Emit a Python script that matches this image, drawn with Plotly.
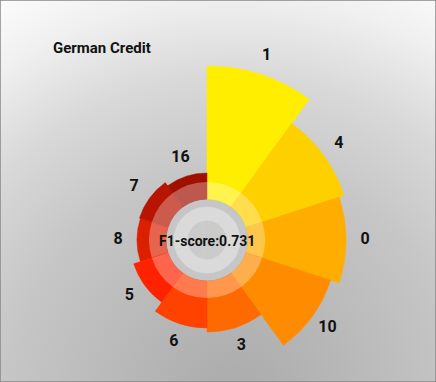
import base64
import math
import plotly.graph_objects as go

# ---- data ----
features = ["1", "4", "0", "10", "3", "6", "5", "8", "7", "16"]
importance = [133, 103, 98, 89, 51, 47, 36, 29, 30, 26]
colors = ["#FFEE00", "#FFD000", "#FFAE00", "#FF8C00", "#FF6A00",
          "#FF4200", "#FF2200", "#DB2000", "#B81500", "#A01000"]
title_text = "German Credit"
score_text = "F1-score:0.731"

HOLE = 41
BAND = 17
LABEL_GAP = 19
n = len(features)
step = 360 / n
thetas = [step / 2 + i * step for i in range(n)]

W, H = 436, 382
CX, CY = 207, 240      # centre in px (from top-left)
RA, RB = 200, 140      # radii (px) of upper / lower polar sectors
SA = [-45, 225]        # upper sector (screen degrees, ccw from east)
SB = [-165, -15]       # lower sector

FONT = "Roboto, Liberation Sans, Arial"

# which wedges go in the lower sector (clockwise angle from top within 108..252)
in_b = [108 <= t <= 252 for t in thetas]

# background gradient image
svg = f'''<svg xmlns="http://www.w3.org/2000/svg" width="{W}" height="{H}">
<defs><radialGradient id="g" gradientUnits="userSpaceOnUse" cx="235" cy="400" r="460">
<stop offset="0" stop-color="#aaaaaa"/>
<stop offset="0.5" stop-color="#c6c6c6"/>
<stop offset="0.7" stop-color="#d8d8d8"/>
<stop offset="0.88" stop-color="#f0f0f0"/>
<stop offset="1" stop-color="#fbfbfb"/>
</radialGradient></defs>
<rect width="{W}" height="{H}" fill="url(#g)"/></svg>'''
uri = "data:image/svg+xml;base64," + base64.b64encode(svg.encode()).decode()

fig = go.Figure()


def add_part(sub, mask):
    th = [t for t, m in zip(thetas, mask) if m]
    vals = [v for v, m in zip(importance, mask) if m]
    cols = [c for c, m in zip(colors, mask) if m]
    k = len(th)
    w = [step] * k
    # centre disc
    fig.add_trace(go.Barpolar(r=[HOLE] * k, theta=th, width=w, base=0, subplot=sub,
                              marker=dict(color="#c6c6c6", line=dict(color="#c6c6c6", width=0.6)),
                              hoverinfo="skip"))
    fig.add_trace(go.Barpolar(r=[14] * k, theta=th, width=w, base=19, subplot=sub,
                              marker=dict(color="#dadada", line=dict(color="#dadada", width=0.6)),
                              hoverinfo="skip"))
    fig.add_trace(go.Barpolar(r=[19] * k, theta=th, width=w, base=0, subplot=sub,
                              marker=dict(color="#cbcbcb", line=dict(color="#cbcbcb", width=0.6)),
                              hoverinfo="skip"))
    # wedges
    fig.add_trace(go.Barpolar(r=vals, theta=th, width=w, base=HOLE, subplot=sub,
                              marker=dict(color=cols, line=dict(color=cols, width=0.5)),
                              hoverinfo="skip"))
    # lighter inner band
    fig.add_trace(go.Barpolar(r=[BAND] * k, theta=th, width=w, base=HOLE, subplot=sub,
                              marker=dict(color="rgba(255,255,255,0.3)", line=dict(width=0)),
                              hoverinfo="skip"))


add_part("polar", [not b for b in in_b])
add_part("polar2", in_b)

# labels: in lower sector when they fit there, otherwise in the upper one
lab_r = [v + HOLE + LABEL_GAP for v in importance]
lab_b = [b and r < RB for b, r in zip(in_b, lab_r)]
for sub, mask in (("polar", [not m for m in lab_b]), ("polar2", lab_b)):
    fig.add_trace(go.Scatterpolar(
        r=[r for r, m in zip(lab_r, mask) if m],
        theta=[t for t, m in zip(thetas, mask) if m],
        text=[f for f, m in zip(features, mask) if m],
        mode="text", cliponaxis=False, subplot=sub, hoverinfo="skip",
        textfont=dict(family=FONT, size=16, color="#111111", weight="bold")))

s45 = -math.sin(math.radians(SA[0]))
c15 = math.cos(math.radians(SB[1]))
polar_common = dict(bgcolor="rgba(0,0,0,0)", barmode="overlay",
                    angularaxis=dict(visible=False, rotation=90, direction="clockwise"))

fig.update_layout(
    width=W, height=H, margin=dict(l=0, r=0, t=0, b=0),
    paper_bgcolor="#ffffff", showlegend=False,
    polar=dict(sector=SA,
               domain=dict(x=[(CX - RA) / W, (CX + RA) / W],
                           y=[1 - (CY + RA * s45) / H, 1 - (CY - RA) / H]),
               radialaxis=dict(visible=False, range=[0, RA]), **polar_common),
    polar2=dict(sector=SB,
                domain=dict(x=[(CX - RB * c15) / W, (CX + RB * c15) / W],
                            y=[1 - (CY + RB) / H, 1 - CY / H]),
                radialaxis=dict(visible=False, range=[0, RB]), **polar_common),
    images=[dict(source=uri, xref="paper", yref="paper", x=0, y=1, sizex=1, sizey=1,
                 sizing="stretch", layer="below", xanchor="left", yanchor="top")],
    annotations=[
        dict(text=title_text, x=51 / W, y=1 - 48 / H, xref="paper", yref="paper",
             xanchor="left", yanchor="middle", showarrow=False,
             font=dict(family=FONT, size=15, color="#111111", weight="bold")),
        dict(text=score_text, x=CX / W, y=1 - (CY + 1) / H, xref="paper", yref="paper",
             xanchor="center", yanchor="middle", showarrow=False,
             font=dict(family=FONT, size=14, color="#111111", weight="bold")),
    ],
    shapes=[dict(type="rect", xref="paper", yref="paper", x0=0, y0=0, x1=1, y1=1,
                 line=dict(color="#888888", width=1.5))],
)
fig.write_html("out.html", config={"displayModeBar": False},
               post_script="document.documentElement.style.margin='0';"
                           "document.body.style.margin='0';"
                           "document.body.style.overflow='hidden';")
